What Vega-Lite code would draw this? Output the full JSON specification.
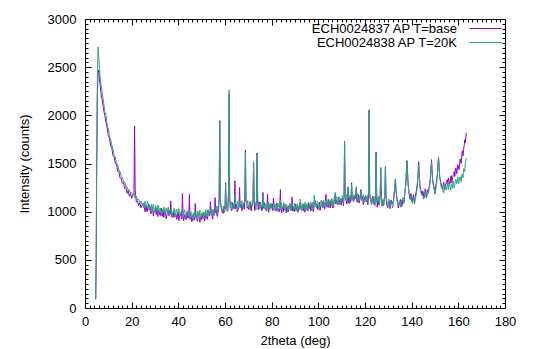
{
"$schema": "https://vega.github.io/schema/vega-lite/v6.json",
"width": 420, "height": 289,
"autosize": "none",
"padding": {"left": 85, "top": 19, "right": 34, "bottom": 41},
"data": {"values": [
{"x":4.6,"a":90,"b":100},{"x":4.8,"a":500,"b":600},{"x":5.0,"a":1400,"b":1500},{"x":5.3,"a":2200,"b":2400},{"x":5.6,"a":2440,"b":2710},{"x":5.9,"a":2470,"b":2600},{"x":6.2,"a":2380,"b":2480},{"x":6.5,"a":2310,"b":2390},{"x":7.0,"a":2200,"b":2300},{"x":7.5,"a":2150,"b":2210},{"x":8.0,"a":2050,"b":2130},{"x":8.5,"a":2000,"b":2040},{"x":9.0,"a":1920,"b":2000},{"x":9.5,"a":1870,"b":1900},{"x":10.0,"a":1790,"b":1860},{"x":10.5,"a":1760,"b":1780},{"x":11.0,"a":1680,"b":1750},{"x":11.5,"a":1660,"b":1690},{"x":12.0,"a":1580,"b":1650},{"x":12.5,"a":1570,"b":1580},{"x":13.0,"a":1500,"b":1570},{"x":13.5,"a":1490,"b":1500},{"x":14.0,"a":1420,"b":1490},{"x":14.5,"a":1420,"b":1430},{"x":15.0,"a":1350,"b":1420},{"x":15.5,"a":1350,"b":1370},{"x":16.0,"a":1290,"b":1360},{"x":16.5,"a":1300,"b":1310},{"x":17.0,"a":1240,"b":1310},{"x":17.5,"a":1250,"b":1260},{"x":18.0,"a":1190,"b":1260},{"x":18.5,"a":1220,"b":1220},{"x":19.0,"a":1160,"b":1230},{"x":19.5,"a":1190,"b":1190},{"x":20.0,"a":1140,"b":1200},{"x":20.5,"a":1170,"b":1160},{"x":21.0,"a":1180,"b":1190},{"x":21.5,"a":1230,"b":1140},{"x":22.0,"a":1100,"b":1160},{"x":22.5,"a":1110,"b":1120},{"x":23.0,"a":1060,"b":1130},{"x":23.5,"a":1090,"b":1090},{"x":24.0,"a":1040,"b":1110},{"x":24.5,"a":1070,"b":1070},
{"x":25,"a":1075,"b":1065},{"x":25.5,"a":1025,"b":1095},{"x":26,"a":1050,"b":1040},{"x":26.5,"a":1000,"b":1075},{"x":27,"a":1060,"b":1085},{"x":27.5,"a":1020,"b":1030},{"x":28,"a":1035,"b":1055},{"x":28.5,"a":985,"b":1075},{"x":29,"a":1045,"b":1020},{"x":29.5,"a":990,"b":1050},
{"x":30,"a":1005,"b":995},{"x":30.5,"a":972,"b":1047},{"x":31,"a":987,"b":1015},{"x":31.5,"a":1017,"b":1057},{"x":32,"a":970,"b":1015},{"x":32.5,"a":997,"b":989},{"x":33,"a":950,"b":1027},{"x":33.5,"a":1012,"b":997},{"x":34,"a":975,"b":1030},{"x":34.5,"a":992,"b":977},
{"x":35,"a":945,"b":1015},{"x":35.5,"a":1008,"b":1028},{"x":36,"a":957,"b":977},{"x":36.5,"a":975,"b":1005},{"x":37,"a":944,"b":1029},{"x":37.5,"a":959,"b":977},{"x":38,"a":991,"b":1011},{"x":38.5,"a":944,"b":959},{"x":39,"a":973,"b":1013},{"x":39.5,"a":926,"b":981},
{"x":40,"a":990,"b":1025},{"x":40.5,"a":953,"b":983},{"x":41,"a":971,"b":958},{"x":41.5,"a":924,"b":996},{"x":42,"a":987,"b":967},{"x":42.5,"a":935,"b":1000},{"x":43,"a":953,"b":948},{"x":43.5,"a":921,"b":986},{"x":44,"a":936,"b":999},{"x":44.5,"a":967,"b":947},
{"x":45,"a":920,"b":975},{"x":45.5,"a":950,"b":1000},{"x":46,"a":905,"b":950},{"x":46.5,"a":970,"b":985},{"x":47,"a":935,"b":935},{"x":47.5,"a":955,"b":990},{"x":48,"a":910,"b":960},{"x":48.5,"a":975,"b":1005},{"x":49,"a":925,"b":965},{"x":49.5,"a":945,"b":942},
{"x":50,"a":915,"b":982},{"x":50.5,"a":935,"b":958},{"x":51,"a":972,"b":997},{"x":51.5,"a":930,"b":950},{"x":52,"a":964,"b":994},{"x":52.5,"a":922,"b":1012},{"x":53,"a":991,"b":966},{"x":53.5,"a":959,"b":999},{"x":54,"a":983,"b":1028},{"x":54.5,"a":941,"b":981},
{"x":55,"a":1010,"b":1020},{"x":55.5,"a":965,"b":975},{"x":56,"a":991,"b":1036},{"x":56.5,"a":966,"b":1011},{"x":57,"a":989,"b":1062},{"x":57.5,"a":1150,"b":1140},{"x":58,"a":1120,"b":1110},{"x":58.5,"a":1023,"b":1040},{"x":59,"a":984,"b":1019},{"x":59.5,"a":1054,"b":1059},
{"x":60,"a":1025,"b":1015},{"x":60.5,"a":1047,"b":1057},{"x":61,"a":1004,"b":1074},{"x":61.5,"a":1200,"b":1180},{"x":62,"a":1150,"b":1160},{"x":62.5,"a":1045,"b":1085},{"x":63,"a":1017,"b":1037},{"x":63.5,"a":1036,"b":1074},{"x":64,"a":1071,"b":1026},{"x":64.5,"a":1028,"b":1083},
{"x":65,"a":1060,"b":1055},{"x":65.5,"a":1016,"b":1101},{"x":66,"a":1082,"b":1062},{"x":66.5,"a":1048,"b":1040},{"x":67,"a":1069,"b":1081},{"x":67.5,"a":1025,"b":1055},{"x":68,"a":1091,"b":1091},{"x":68.5,"a":1120,"b":1110},{"x":69,"a":1110,"b":1120},{"x":69.5,"a":1034,"b":1099},
{"x":70,"a":1052,"b":1050},{"x":70.5,"a":1084,"b":1079},{"x":71,"a":1038,"b":1103},{"x":71.5,"a":1067,"b":1052},{"x":72,"a":1100,"b":1110},{"x":72.5,"a":1110,"b":1100},{"x":73,"a":1049,"b":1089},{"x":73.5,"a":1120,"b":1110},{"x":74,"a":1100,"b":1120},{"x":74.5,"a":1086,"b":1061},
{"x":75,"a":1035,"b":1037},{"x":75.5,"a":1054,"b":1076},{"x":76,"a":1023,"b":1048},{"x":76.5,"a":1039,"b":1082},{"x":77,"a":1071,"b":1031},{"x":77.5,"a":1025,"b":1070},{"x":78,"a":1054,"b":1084},{"x":78.5,"a":1008,"b":1033},{"x":79,"a":1072,"b":1062},{"x":79.5,"a":1036,"b":1086},
{"x":80,"a":1055,"b":1035},{"x":80.5,"a":1010,"b":1070},{"x":81,"a":1074,"b":1019},{"x":81.5,"a":1023,"b":1073},{"x":82,"a":1043,"b":1043},{"x":82.5,"a":1012,"b":1087},{"x":83,"a":1029,"b":1047},{"x":83.5,"a":1061,"b":1023},{"x":84,"a":1016,"b":1063},{"x":84.5,"a":1045,"b":1035},
{"x":85,"a":1000,"b":1070},{"x":85.5,"a":1064,"b":1019},{"x":86,"a":1029,"b":1059},{"x":86.5,"a":1048,"b":1073},{"x":87,"a":1003,"b":1023},{"x":87.5,"a":1067,"b":1052},{"x":88,"a":1017,"b":1077},{"x":88.5,"a":1036,"b":1026},{"x":89,"a":1006,"b":1061},{"x":89.5,"a":1022,"b":1010},
{"x":90,"a":1055,"b":1065},{"x":90.5,"a":1011,"b":1036},{"x":91,"a":1042,"b":1082},{"x":91.5,"a":998,"b":1043},{"x":92,"a":1064,"b":1021},{"x":92.5,"a":1030,"b":1062},{"x":93,"a":1051,"b":1036},{"x":93.5,"a":1007,"b":1072},{"x":94,"a":1073,"b":1023},{"x":94.5,"a":1024,"b":1064},
{"x":95,"a":1045,"b":1080},{"x":95.5,"a":1017,"b":1032},{"x":96,"a":1036,"b":1064},{"x":96.5,"a":1071,"b":1091},{"x":97,"a":1028,"b":1043},{"x":97.5,"a":1060,"b":1080},{"x":98,"a":1017,"b":1032},{"x":98.5,"a":1084,"b":1089},{"x":99,"a":1051,"b":1061},{"x":99.5,"a":1073,"b":1108},
{"x":100,"a":1030,"b":1070},{"x":100.5,"a":1097,"b":1049},{"x":101,"a":1049,"b":1091},{"x":101.5,"a":1071,"b":1066},{"x":102,"a":1043,"b":1103},{"x":102.5,"a":1062,"b":1055},{"x":103,"a":1097,"b":1097},{"x":103.5,"a":1054,"b":1114},{"x":104,"a":1086,"b":1066},{"x":104.5,"a":1043,"b":1098},
{"x":105,"a":1110,"b":1125},{"x":105.5,"a":1078,"b":1078},{"x":106,"a":1101,"b":1116},{"x":106.5,"a":1059,"b":1069},{"x":107,"a":1127,"b":1127},{"x":107.5,"a":1080,"b":1100},{"x":108,"a":1103,"b":1148},{"x":108.5,"a":1076,"b":1111},{"x":109,"a":1096,"b":1091},{"x":109.5,"a":1132,"b":1134},
{"x":110,"a":1090,"b":1110},{"x":110.5,"a":1122,"b":1147},{"x":111,"a":1150,"b":1160},{"x":111.5,"a":1160,"b":1170},{"x":112,"a":1113,"b":1158},{"x":112.5,"a":1135,"b":1110},{"x":113,"a":1092,"b":1142},{"x":113.5,"a":1159,"b":1169},{"x":114,"a":1111,"b":1121},{"x":114.5,"a":1133,"b":1158},
{"x":115,"a":1105,"b":1110},{"x":115.5,"a":1121,"b":1164},{"x":116,"a":1153,"b":1133},{"x":116.5,"a":1107,"b":1177},{"x":117,"a":1136,"b":1136},{"x":117.5,"a":1090,"b":1112},{"x":118,"a":1154,"b":1151},{"x":118.5,"a":1118,"b":1123},{"x":119,"a":1137,"b":1157},{"x":119.5,"a":1091,"b":1106},
{"x":120,"a":1155,"b":1145},{"x":120.5,"a":1103,"b":1158},{"x":121,"a":1121,"b":1106},{"x":121.5,"a":1180,"b":1190},{"x":122,"a":1180,"b":1200},{"x":122.5,"a":1135,"b":1105},{"x":123,"a":1088,"b":1138},{"x":123.5,"a":1116,"b":1086},{"x":124,"a":1069,"b":1139},{"x":124.5,"a":1180,"b":1170},
{"x":125,"a":1170,"b":1180},{"x":125.5,"a":1113,"b":1108},{"x":126,"a":1066,"b":1083},{"x":126.5,"a":1160,"b":1170},{"x":127,"a":1150,"b":1140},{"x":127.5,"a":1095,"b":1125},{"x":128,"a":1063,"b":1073},{"x":128.5,"a":1150,"b":1160},{"x":129,"a":1160,"b":1150},{"x":129.5,"a":1062,"b":1072},
{"x":130,"a":1090,"b":1090},{"x":130.5,"a":1046,"b":1116},{"x":131,"a":1112,"b":1067},{"x":131.5,"a":1078,"b":1103},{"x":132,"a":1099,"b":1054},{"x":132.5,"a":1180,"b":1190},{"x":133,"a":1330,"b":1340},{"x":133.5,"a":1170,"b":1180},{"x":134,"a":1093,"b":1088},{"x":134.5,"a":1064,"b":1066},
{"x":135,"a":1082,"b":1107},{"x":135.5,"a":1120,"b":1085},{"x":136,"a":1080,"b":1125},{"x":136.5,"a":1115,"b":1080},{"x":137,"a":1180,"b":1170},{"x":137.5,"a":1300,"b":1290},{"x":138,"a":1530,"b":1520},{"x":138.5,"a":1280,"b":1270},{"x":139,"a":1170,"b":1180},{"x":139.5,"a":1170,"b":1120},
{"x":140,"a":1125,"b":1135},{"x":140.5,"a":1149,"b":1089},{"x":141,"a":1123,"b":1148},{"x":141.5,"a":1144,"b":1122},{"x":142,"a":1210,"b":1180},{"x":142.5,"a":1310,"b":1290},{"x":143,"a":1520,"b":1500},{"x":143.5,"a":1290,"b":1270},{"x":144,"a":1220,"b":1190},{"x":144.5,"a":1171,"b":1176},
{"x":145,"a":1195,"b":1130},{"x":145.5,"a":1155,"b":1175},{"x":146,"a":1225,"b":1195},{"x":146.5,"a":1180,"b":1150},{"x":147,"a":1205,"b":1185},{"x":147.5,"a":1250,"b":1230},{"x":148,"a":1350,"b":1320},{"x":148.5,"a":1540,"b":1520},{"x":149,"a":1340,"b":1310},{"x":149.5,"a":1260,"b":1240},
{"x":150,"a":1195,"b":1180},{"x":150.5,"a":1290,"b":1260},{"x":151,"a":1380,"b":1380},{"x":151.5,"a":1560,"b":1570},{"x":152,"a":1370,"b":1360},{"x":152.5,"a":1300,"b":1270},{"x":153,"a":1251,"b":1246},{"x":153.5,"a":1277,"b":1202},{"x":154,"a":1253,"b":1248},{"x":154.5,"a":1276,"b":1269},
{"x":155,"a":1315,"b":1225},{"x":155.5,"a":1283,"b":1268},{"x":156,"a":1327,"b":1292},{"x":156.5,"a":1295,"b":1250},{"x":157,"a":1373,"b":1288},{"x":157.5,"a":1352,"b":1242},{"x":158,"a":1385,"b":1300},{"x":158.5,"a":1365,"b":1280},{"x":159,"a":1455,"b":1335},{"x":159.5,"a":1430,"b":1305},
{"x":160,"a":1475,"b":1292},{"x":160.5,"a":1477,"b":1349},{"x":161,"a":1527,"b":1335},{"x":161.5,"a":1592,"b":1387},{"x":162,"a":1580,"b":1350},{"x":162.5,"a":1685,"b":1440},{"x":163,"a":1715,"b":1505},{"x":163.4,"a":1820,"b":1560},
{"x":21.25,"a":1890,"b":1170},{"x":36.75,"a":1110,"b":1000},{"x":41.75,"a":1187,"b":980},{"x":44.75,"a":1180,"b":975},{"x":47.25,"a":1084,"b":975},{"x":53.75,"a":1105,"b":1000},{"x":55.75,"a":1146,"b":1010},{"x":57.75,"a":1946,"b":1930},{"x":60.25,"a":1300,"b":1280},{"x":61.75,"a":2220,"b":2265},{"x":64.25,"a":1320,"b":1180},{"x":66.25,"a":1250,"b":1100},{"x":68.75,"a":1640,"b":1620},{"x":72.25,"a":1500,"b":1520},{"x":73.75,"a":1610,"b":1600},{"x":76.25,"a":1200,"b":1180},{"x":78.25,"a":1180,"b":1090},{"x":80.75,"a":1140,"b":1060},{"x":83.75,"a":1230,"b":1120},{"x":88.75,"a":1150,"b":1080},{"x":92.25,"a":1100,"b":1130},{"x":98.25,"a":1100,"b":1170},{"x":103.25,"a":1180,"b":1120},{"x":107.25,"a":1180,"b":1200},{"x":111.25,"a":1700,"b":1735},{"x":112.75,"a":1250,"b":1260},{"x":114.25,"a":1300,"b":1280},{"x":116.25,"a":1240,"b":1260},{"x":118.25,"a":1230,"b":1210},{"x":121.75,"a":2050,"b":2060},{"x":124.75,"a":1620,"b":1600},{"x":126.75,"a":1450,"b":1460},{"x":128.75,"a":1470,"b":1460},
{"x":25.25,"a":1088,"b":1038},{"x":25.75,"a":998,"b":1108},{"x":26.25,"a":1058,"b":1053},{"x":26.75,"a":1003,"b":1108},{"x":27.25,"a":1078,"b":1023},{"x":27.75,"a":1013,"b":1073},{"x":28.25,"a":978,"b":998},{"x":28.75,"a":1043,"b":1053},{"x":29.25,"a":958,"b":1078},{"x":29.75,"a":1013,"b":993},
{"x":30.25,"a":1034,"b":1064},{"x":30.75,"a":1036,"b":1011},{"x":31.25,"a":949,"b":1069},{"x":31.75,"a":1011,"b":986},{"x":32.25,"a":959,"b":1039},{"x":32.75,"a":1036,"b":966},{"x":33.25,"a":974,"b":1024},{"x":33.75,"a":941,"b":1051},{"x":34.25,"a":1009,"b":969},{"x":34.75,"a":926,"b":1041},
{"x":35.25,"a":984,"b":989},{"x":35.75,"a":1008,"b":1048},{"x":36.25,"a":1011,"b":966},{"x":37.25,"a":988,"b":948},{"x":37.75,"a":937,"b":1007},{"x":38.25,"a":1015,"b":1035},{"x":38.75,"a":954,"b":954},{"x":39.25,"a":922,"b":1027},{"x":39.75,"a":991,"b":976},
{"x":40.25,"a":909,"b":1034},{"x":40.75,"a":967,"b":952},{"x":41.25,"a":990,"b":1005},{"x":42.25,"a":906,"b":991},{"x":42.75,"a":969,"b":1019},{"x":43.25,"a":917,"b":937},{"x":43.75,"a":995,"b":1010},{"x":44.25,"a":933,"b":958},
{"x":45.25,"a":980,"b":935},{"x":45.75,"a":895,"b":990},{"x":46.25,"a":960,"b":920},{"x":46.75,"a":910,"b":980},{"x":47.75,"a":930,"b":930},{"x":48.25,"a":900,"b":1005},{"x":48.75,"a":970,"b":955},{"x":49.25,"a":890,"b":1015},{"x":49.75,"a":950,"b":935},
{"x":50.25,"a":977,"b":992},{"x":50.75,"a":985,"b":925},{"x":51.25,"a":904,"b":989},{"x":51.75,"a":972,"b":1022},{"x":52.25,"a":926,"b":946},{"x":52.75,"a":1009,"b":1024},{"x":53.25,"a":953,"b":978},{"x":54.25,"a":1000,"b":965},{"x":54.75,"a":923,"b":1023},
{"x":55.25,"a":988,"b":958},{"x":56.25,"a":1029,"b":1059},{"x":56.75,"a":949,"b":984},{"x":57.25,"a":1020,"b":1065},{"x":58.25,"a":1061,"b":1071},{"x":58.75,"a":1006,"b":996},{"x":59.25,"a":982,"b":1057},{"x":59.75,"a":1057,"b":992},
{"x":60.75,"a":1043,"b":1088},{"x":61.25,"a":1070,"b":1010},{"x":62.25,"a":1059,"b":1039},{"x":62.75,"a":1011,"b":1101},{"x":63.25,"a":1093,"b":1023},{"x":63.75,"a":1035,"b":1080},{"x":64.75,"a":1079,"b":1074},
{"x":65.25,"a":1000,"b":1105},{"x":65.75,"a":1061,"b":1026},{"x":66.75,"a":1073,"b":1053},{"x":67.25,"a":1009,"b":1114},{"x":67.75,"a":1075,"b":1035},{"x":68.25,"a":1026,"b":1091},{"x":69.25,"a":1108,"b":1083},{"x":69.75,"a":1049,"b":1114},
{"x":70.25,"a":1020,"b":1035},{"x":70.75,"a":1089,"b":1109},{"x":71.25,"a":1008,"b":1058},{"x":71.75,"a":1067,"b":1117},{"x":72.75,"a":1010,"b":1090},{"x":73.25,"a":1074,"b":1019},{"x":74.25,"a":1022,"b":1107},{"x":74.75,"a":1101,"b":1026},
{"x":75.25,"a":1040,"b":1100},{"x":75.75,"a":1009,"b":1049},{"x":76.75,"a":1097,"b":1027},{"x":77.25,"a":1036,"b":1081},{"x":77.75,"a":1005,"b":1010},{"x":78.75,"a":993,"b":1098},{"x":79.25,"a":1052,"b":1017},{"x":79.75,"a":1076,"b":1091},
{"x":80.25,"a":1080,"b":1040},{"x":81.25,"a":1059,"b":1019},{"x":81.75,"a":1008,"b":1073},{"x":82.25,"a":1088,"b":1003},{"x":82.75,"a":1027,"b":1062},{"x":83.25,"a":997,"b":1092},{"x":84.25,"a":986,"b":1086},{"x":84.75,"a":1045,"b":1035},
{"x":85.25,"a":1070,"b":1095},{"x":85.75,"a":1074,"b":1014},{"x":86.25,"a":989,"b":1069},{"x":86.75,"a":1053,"b":998},{"x":87.25,"a":1003,"b":1058},{"x":87.75,"a":1082,"b":1087},{"x":88.25,"a":1022,"b":1007},{"x":89.25,"a":1051,"b":1031},{"x":89.75,"a":1000,"b":1090},
{"x":90.25,"a":1080,"b":1010},{"x":90.75,"a":1021,"b":1066},{"x":91.25,"a":992,"b":997},{"x":91.75,"a":1063,"b":1058},{"x":92.75,"a":1045,"b":1010},{"x":93.25,"a":1071,"b":1086},{"x":93.75,"a":1077,"b":1037},{"x":94.25,"a":993,"b":1098},{"x":94.75,"a":1059,"b":1019},
{"x":95.25,"a":1011,"b":1076},{"x":95.75,"a":1093,"b":1008},{"x":96.25,"a":1035,"b":1070},{"x":96.75,"a":1005,"b":1102},{"x":97.25,"a":1084,"b":1024},{"x":97.75,"a":1001,"b":1101},{"x":98.75,"a":1105,"b":1115},{"x":99.25,"a":1047,"b":1037},{"x":99.75,"a":1019,"b":1094},
{"x":100.25,"a":1091,"b":1026},{"x":100.75,"a":1013,"b":1088},{"x":101.25,"a":1075,"b":1120},{"x":101.75,"a":1102,"b":1042},{"x":102.25,"a":1109,"b":1119},{"x":102.75,"a":1026,"b":1071},{"x":103.75,"a":1045,"b":1055},{"x":104.25,"a":1127,"b":1112},{"x":104.75,"a":1069,"b":1044},
{"x":105.25,"a":1041,"b":1106},{"x":105.75,"a":1114,"b":1139},{"x":106.25,"a":1037,"b":1062},{"x":106.75,"a":1100,"b":1140},{"x":107.75,"a":1116,"b":1156},{"x":108.25,"a":1069,"b":1079},{"x":108.75,"a":1152,"b":1137},{"x":109.25,"a":1095,"b":1070},{"x":109.75,"a":1068,"b":1133},
{"x":110.25,"a":1141,"b":1166},{"x":110.75,"a":1062,"b":1087},{"x":111.75,"a":1152,"b":1117},{"x":112.25,"a":1079,"b":1179},{"x":113.25,"a":1083,"b":1158},{"x":113.75,"a":1155,"b":1090},{"x":114.75,"a":1139,"b":1184},
{"x":115.25,"a":1165,"b":1105},{"x":115.75,"a":1169,"b":1179},{"x":116.75,"a":1097,"b":1187},{"x":117.25,"a":1176,"b":1106},{"x":117.75,"a":1115,"b":1160},{"x":118.75,"a":1153,"b":1148},{"x":119.25,"a":1072,"b":1177},{"x":119.75,"a":1131,"b":1096},
{"x":120.25,"a":1154,"b":1169},{"x":120.75,"a":1157,"b":1117},{"x":121.25,"a":1070,"b":1175},{"x":122.25,"a":1131,"b":1146},{"x":122.75,"a":1079,"b":1074},{"x":123.25,"a":1157,"b":1132},{"x":123.75,"a":1095,"b":1160},{"x":124.25,"a":1063,"b":1078},
{"x":125.25,"a":1049,"b":1099},{"x":125.75,"a":1107,"b":1157},{"x":126.25,"a":1130,"b":1075},{"x":127.25,"a":1111,"b":1056},{"x":127.75,"a":1059,"b":1114},{"x":128.25,"a":1137,"b":1142},{"x":129.25,"a":1073,"b":1133},{"x":129.75,"a":1041,"b":1081},
{"x":130.25,"a":1110,"b":1130},{"x":130.75,"a":1031,"b":1051},{"x":131.25,"a":1122,"b":1107},{"x":131.75,"a":1093,"b":1038},{"x":132.25,"a":1115,"b":1125},{"x":132.75,"a":1250,"b":1260},{"x":133.25,"a":1240,"b":1255},{"x":133.75,"a":1130,"b":1110},{"x":134.25,"a":1038,"b":1058},{"x":134.75,"a":1099,"b":1114},
{"x":135.25,"a":1127,"b":1047},{"x":135.75,"a":1052,"b":1112},{"x":136.25,"a":1122,"b":1147},{"x":136.75,"a":1100,"b":1095},{"x":137.25,"a":1240,"b":1225},{"x":137.75,"a":1425,"b":1410},{"x":138.25,"a":1405,"b":1390},{"x":138.75,"a":1230,"b":1210},{"x":139.25,"a":1130,"b":1160},{"x":139.75,"a":1187,"b":1160},
{"x":140.25,"a":1102,"b":1087},{"x":140.75,"a":1176,"b":1146},{"x":141.25,"a":1110,"b":1080},{"x":141.75,"a":1190,"b":1150},{"x":142.25,"a":1255,"b":1230},{"x":142.75,"a":1405,"b":1385},{"x":143.25,"a":1395,"b":1380},{"x":143.75,"a":1245,"b":1220},{"x":144.25,"a":1190,"b":1170},{"x":144.75,"a":1213,"b":1178},
{"x":145.25,"a":1142,"b":1147},{"x":145.75,"a":1237,"b":1212},{"x":146.25,"a":1152,"b":1137},{"x":146.75,"a":1227,"b":1197},{"x":147.25,"a":1230,"b":1200},{"x":147.75,"a":1305,"b":1275},{"x":148.25,"a":1445,"b":1420},{"x":148.75,"a":1435,"b":1410},{"x":149.25,"a":1300,"b":1275},{"x":149.75,"a":1255,"b":1225},
{"x":150.25,"a":1255,"b":1215},{"x":150.75,"a":1330,"b":1310},{"x":151.25,"a":1470,"b":1475},{"x":151.75,"a":1460,"b":1470},{"x":152.25,"a":1335,"b":1320},{"x":152.75,"a":1285,"b":1245},{"x":153.25,"a":1229,"b":1269},{"x":153.75,"a":1305,"b":1195},{"x":154.25,"a":1231,"b":1276},{"x":154.75,"a":1297,"b":1232},
{"x":155.25,"a":1331,"b":1301},{"x":155.75,"a":1350,"b":1230},{"x":156.25,"a":1283,"b":1286},{"x":156.75,"a":1367,"b":1222},{"x":157.25,"a":1300,"b":1285},{"x":157.75,"a":1373,"b":1318},{"x":158.25,"a":1417,"b":1245},{"x":158.75,"a":1447,"b":1330},{"x":159.25,"a":1392,"b":1290},{"x":159.75,"a":1487,"b":1360},
{"x":160.25,"a":1436,"b":1294},{"x":160.75,"a":1548,"b":1363},{"x":161.25,"a":1501,"b":1309},{"x":161.75,"a":1633,"b":1383},{"x":162.25,"a":1647,"b":1445},{"x":162.75,"a":1747,"b":1415}
]},
"transform": [{"fold": ["a", "b"], "as": ["s", "v"]}],
"layer": [
 {"mark": {"type": "line", "strokeWidth": 1},
  "encoding": {
   "x": {"field": "x", "type": "quantitative", "scale": {"domain": [0, 180], "nice": false, "zero": false},
     "axis": {"orient": "bottom", "values": [0,20,40,60,80,100,120,140,160,180], "tickSize": -6, "labelPadding": 13, "title": "2theta (deg)", "titlePadding": 6}},
   "y": {"field": "v", "type": "quantitative", "scale": {"domain": [0, 3000], "nice": false},
     "axis": {"orient": "left", "values": [0,500,1000,1500,2000,2500,3000], "format": "d", "tickSize": -6, "labelPadding": 15, "title": "Intensity (counts)", "titlePadding": 16}},
   "color": {"field": "s", "type": "nominal", "scale": {"domain": ["a", "b"], "range": ["#9400d3", "#2ea37c"]},
     "legend": {"orient": "none", "legendX": 384, "legendY": 2.5, "title": null, "symbolType": "M-1,0H3.94", "symbolSize": 169, "symbolStrokeWidth": 1, "labelAlign": "right", "labelOffset": -26, "labelFontSize": 13, "labelFont": "Liberation Sans", "labelColor": "black", "padding": 0, "rowPadding": 0,
       "labelExpr": "datum.label == 'a' ? 'ECH0024837 AP T=base' : 'ECH0024838 AP T=20K'"}}
  }},
 {"mark": {"type": "line", "opacity": 0},
  "encoding": {
   "detail": {"field": "s"},
   "x": {"field": "x", "type": "quantitative", "axis": {"orient": "top", "values": [0,20,40,60,80,100,120,140,160,180], "tickSize": -6, "labels": false, "title": null}},
   "y": {"field": "v", "type": "quantitative", "axis": {"orient": "right", "values": [0,500,1000,1500,2000,2500,3000], "tickSize": -6, "labels": false, "title": null}}
  }},
 {"mark": {"type": "line", "opacity": 0},
  "encoding": {
   "detail": {"field": "s"},
   "x": {"field": "x", "type": "quantitative", "axis": {"orient": "bottom", "values": [2,4,6,8,10,12,14,16,18,22,24,26,28,30,32,34,36,38,42,44,46,48,50,52,54,56,58,62,64,66,68,70,72,74,76,78,82,84,86,88,90,92,94,96,98,102,104,106,108,110,112,114,116,118,122,124,126,128,130,132,134,136,138,142,144,146,148,150,152,154,156,158,162,164,166,168,170,172,174,176,178], "tickSize": -3, "labels": false, "title": null}},
   "y": {"field": "v", "type": "quantitative", "axis": {"orient": "left", "values": [50,100,150,200,250,300,350,400,450,550,600,650,700,750,800,850,900,950,1050,1100,1150,1200,1250,1300,1350,1400,1450,1550,1600,1650,1700,1750,1800,1850,1900,1950,2050,2100,2150,2200,2250,2300,2350,2400,2450,2550,2600,2650,2700,2750,2800,2850,2900,2950], "tickSize": -3, "labels": false, "title": null}}
  }},
 {"mark": {"type": "line", "opacity": 0},
  "encoding": {
   "detail": {"field": "s"},
   "x": {"field": "x", "type": "quantitative", "axis": {"orient": "top", "values": [2,4,6,8,10,12,14,16,18,22,24,26,28,30,32,34,36,38,42,44,46,48,50,52,54,56,58,62,64,66,68,70,72,74,76,78,82,84,86,88,90,92,94,96,98,102,104,106,108,110,112,114,116,118,122,124,126,128,130,132,134,136,138,142,144,146,148,150,152,154,156,158,162,164,166,168,170,172,174,176,178], "tickSize": -3, "labels": false, "title": null}},
   "y": {"field": "v", "type": "quantitative", "axis": {"orient": "right", "values": [50,100,150,200,250,300,350,400,450,550,600,650,700,750,800,850,900,950,1050,1100,1150,1200,1250,1300,1350,1400,1450,1550,1600,1650,1700,1750,1800,1850,1900,1950,2050,2100,2150,2200,2250,2300,2350,2400,2450,2550,2600,2650,2700,2750,2800,2850,2900,2950], "tickSize": -3, "labels": false, "title": null}}
  }}
],
"resolve": {"axis": {"x": "independent", "y": "independent"}},
"config": {
 "view": {"stroke": "black", "strokeWidth": 1},
 "background": "white",
 "axis": {"domain": false, "grid": false, "labelFlush": false, "tickColor": "black", "tickWidth": 1, "labelFont": "Liberation Sans", "labelFontSize": 13, "labelColor": "black", "titleFont": "Liberation Sans", "titleFontSize": 13, "titleFontWeight": "normal", "titleColor": "black"}
}
}
